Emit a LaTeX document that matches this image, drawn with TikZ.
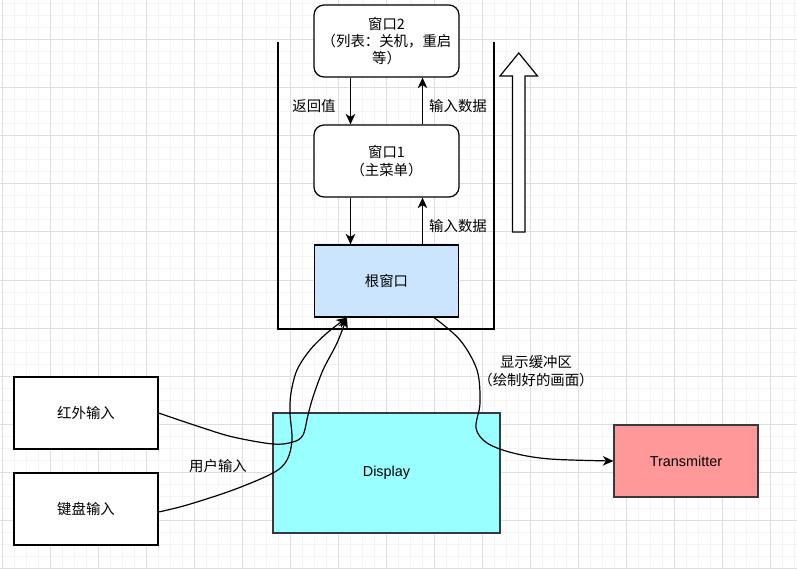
\documentclass[tikz,border=0pt]{standalone}
\usepackage{fontspec}
\setmainfont{Liberation Sans}
\newfontfamily\cjk{Noto Sans CJK SC}
\usetikzlibrary{arrows.meta}
\definecolor{gridminor}{HTML}{F4F4F4}
\definecolor{gridmajor}{HTML}{DEDEDE}
\definecolor{rootblue}{HTML}{CCE5FF}
\definecolor{dispcyan}{HTML}{99FFFF}
\definecolor{transred}{HTML}{FF9999}
\definecolor{edgegray}{HTML}{36393D}
\tikzset{
  every node/.style={font=\cjk\fontsize{14.4}{17.3}\selectfont, text=black},
  win/.style={draw=black, line width=1.2pt, rounded corners=10pt, fill=white,
    minimum width=145pt, minimum height=72pt, inner sep=0pt, align=center},
  box/.style={draw=black, line width=1.2pt, fill=white,
    minimum width=144pt, minimum height=72pt, inner sep=0pt, align=center},
  lbl/.style={inner sep=0pt, align=center},
  arr/.style={draw=black, line width=1.2pt, -{Stealth[length=10.5pt,width=9.5pt,inset=3pt]}},
  curv/.style={arr, smooth, tension=0.55},
}
\begin{document}
\begin{tikzpicture}[x=1pt,y=-1pt]
\useasboundingbox (0,0) rectangle (797,569);
% grid
\foreach \gx in {2,14,...,800} \draw[gridminor, line width=1pt] (\gx,0) -- (\gx,569);
\foreach \gy in {4,16,...,570} \draw[gridminor, line width=1pt] (0,\gy) -- (797,\gy);
\foreach \gx in {2,50,...,800} \draw[gridmajor, line width=1pt] (\gx,0) -- (\gx,569);
\foreach \gy in {40,88,...,570} \draw[gridmajor, line width=1pt] (0,\gy) -- (797,\gy);

% container
\draw[black, line width=1.2pt] (278,42) -- (278,329) -- (494,329) -- (494,42);
% block up arrow
\draw[black, line width=1.2pt, fill=white] (512.5,232) -- (525,232) -- (525,76) -- (537.5,76)
  -- (518.75,53) -- (500,76) -- (512.5,76) -- cycle;

% nodes
\node[win] (w2) at (386.5,41) {窗口2\\（列表：关机，重启\\等）};
\node[win] (w1) at (386.5,161) {窗口1\\（主菜单）};
\node[box, fill=rootblue] (root) at (386.5,281) {根窗口};
\node[box] (red) at (86,413) {红外输入};
\node[box] (key) at (86,509) {键盘输入};
\node[box, draw=edgegray, fill=dispcyan, minimum width=227pt, minimum height=120pt]
  (disp) at (386.5,473) {\rmfamily Display};
\node[box, draw=edgegray, fill=transred] (trans) at (686,461) {\rmfamily Transmitter};

% window arrows
\draw[arr] ([xshift=-36pt]w2.south) -- ([xshift=-36pt]w1.north);
\draw[arr] ([xshift=36pt]w1.north) -- ([xshift=36pt]w2.south);
\draw[arr] ([xshift=-36pt]w1.south) -- ([xshift=-36pt]root.north);
\draw[arr] ([xshift=36pt]root.north) -- ([xshift=36pt]w1.south);
\node[lbl] (l1) at (314,106) {返回值};
\node[lbl] (l2) at (458,106) {输入数据};
\node[lbl] (l3) at (458,226) {输入数据};

% curves
\coordinate (rootin) at ([xshift=33pt]root.south west);
\coordinate (rootout) at ([xshift=-25pt]root.south east);
\coordinate (keyout) at ([yshift=-3pt]key.east);
\draw[curv] plot coordinates {(red.east) (200,427) (233,437) (273,444) (293,442) (303,435)
  (308,415) (313,397) (323,370) (337,343) (rootin)};
\draw[curv] plot coordinates {(keyout) (187,505) (233,490) (273,473) (287,460) (292,440)
  (290,413) (291,393) (297,370) (310,350) (327,333) (rootin)};
\draw[curv] plot coordinates {(rootout) (460,340) (477,370) (480,403) (476,428) (487,443)
  (513,453) (550,459) (trans.west)};

\node[lbl] (l4) at (218,466) {用户输入};
\node[lbl] (l5) at (536,371) {显示缓冲区\\（绘制好的画面）};
\end{tikzpicture}
\end{document}
